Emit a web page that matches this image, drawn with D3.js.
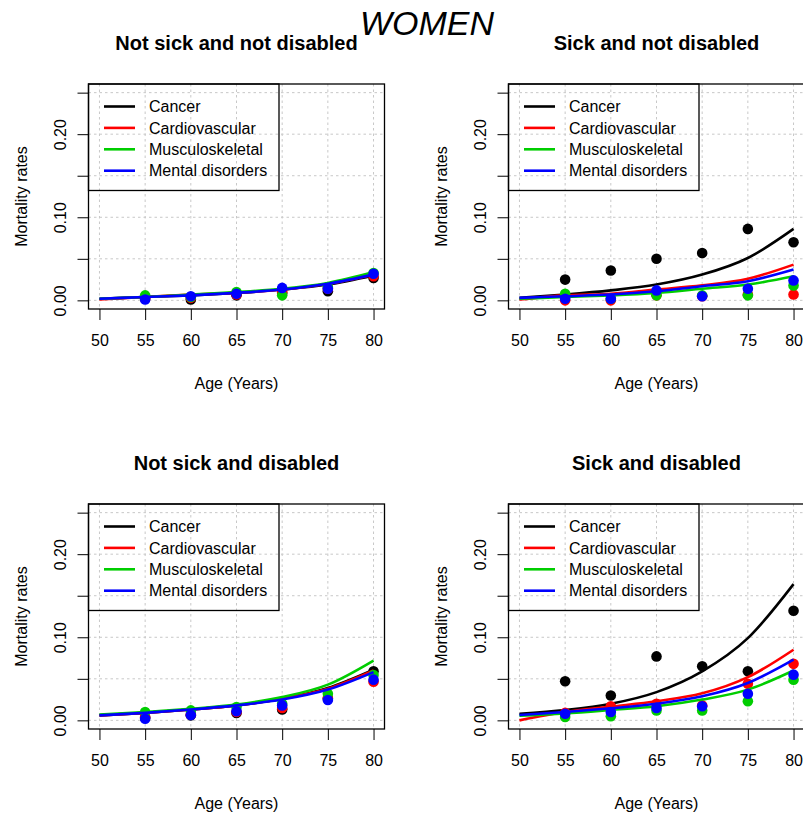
<!DOCTYPE html>
<html>
<head>
<meta charset="utf-8">
<script src="https://cdn.jsdelivr.net/npm/d3@7"></script>
<style>
  html, body { margin: 0; padding: 0; background: #fff; }
  svg { display: block; }
  text { font-family: "Liberation Sans", Arial, "DejaVu Sans", sans-serif; fill: #000; }
</style>
</head>
<body>
<svg id="chart" width="803" height="819"></svg>
<script>
// ---------------- DATA ----------------
const mainTitle = "WOMEN";
const causes = ["Cancer", "Cardiovascular", "Musculoskeletal", "Mental disorders"];
const causeColors = ["#000000", "#ff0000", "#00cd00", "#0000ff"];
const fitAges = [50, 55, 60, 65, 70, 75, 80];
const obsAges = [55, 60, 65, 70, 75, 80];
const xTicks = [50, 55, 60, 65, 70, 75, 80];
const yTicks = [0, 0.05, 0.10, 0.15, 0.20, 0.25];
const yTickLabels = ["0.00", "", "0.10", "", "0.20", ""];
const xLabel = "Age (Years)";
const yLabel = "Mortality rates";

const panelTitles = ["Not sick and not disabled", "Sick and not disabled",
                     "Not sick and disabled", "Sick and disabled"];

// fitted curves (rows: Cancer, Cardiovascular, Musculoskeletal, Mental disorders)
const fitNotSickNotDisabled = [
  [0.002, 0.004, 0.006, 0.009, 0.013, 0.019, 0.030],
  [0.001, 0.004, 0.007, 0.009, 0.013, 0.020, 0.031],
  [0.002, 0.004, 0.007, 0.010, 0.014, 0.021, 0.034],
  [0.002, 0.004, 0.006, 0.009, 0.013, 0.020, 0.031]
];
const fitSickNotDisabled = [
  [0.003, 0.007, 0.012, 0.019, 0.031, 0.051, 0.086],
  [0.001, 0.006, 0.008, 0.013, 0.018, 0.026, 0.043],
  [0.002, 0.004, 0.006, 0.009, 0.014, 0.019, 0.029],
  [0.003, 0.005, 0.007, 0.011, 0.017, 0.023, 0.037]
];
const fitNotSickDisabled = [
  [0.006, 0.009, 0.013, 0.018, 0.026, 0.039, 0.061],
  [0.006, 0.009, 0.013, 0.018, 0.026, 0.038, 0.060],
  [0.007, 0.010, 0.014, 0.019, 0.028, 0.043, 0.072],
  [0.006, 0.009, 0.013, 0.018, 0.025, 0.037, 0.058]
];
const fitSickDisabled = [
  [0.008, 0.0125, 0.020, 0.034, 0.059, 0.099, 0.164],
  [0.000, 0.010, 0.0165, 0.023, 0.0325, 0.052, 0.085],
  [0.0056, 0.0084, 0.0125, 0.017, 0.025, 0.037, 0.060],
  [0.0064, 0.010, 0.0145, 0.020, 0.029, 0.045, 0.073]
];

// observed rates (points)
const obsNotSickNotDisabled = [
  [0.003, 0.001, 0.006, 0.009, 0.011, 0.027],
  [0.002, 0.003, 0.007, 0.010, 0.014, 0.029],
  [0.006, 0.004, 0.010, 0.006, 0.016, 0.033],
  [0.001, 0.005, 0.008, 0.015, 0.014, 0.032]
];
const obsSickNotDisabled = [
  [0.025, 0.036, 0.050, 0.057, 0.086, 0.070],
  [0.000, 0.000, 0.006, 0.005, 0.007, 0.007],
  [0.008, 0.002, 0.006, 0.006, 0.006, 0.018],
  [0.002, 0.002, 0.012, 0.005, 0.014, 0.024]
];
const obsNotSickDisabled = [
  [0.003, 0.006, 0.009, 0.013, 0.026, 0.059],
  [0.004, 0.007, 0.010, 0.015, 0.027, 0.0465],
  [0.010, 0.012, 0.016, 0.020, 0.032, 0.0545],
  [0.002, 0.0064, 0.011, 0.018, 0.0245, 0.049]
];
const obsSickDisabled = [
  [0.047, 0.030, 0.077, 0.065, 0.059, 0.132],
  [0.009, 0.017, 0.020, 0.018, 0.044, 0.068],
  [0.004, 0.005, 0.012, 0.012, 0.023, 0.049],
  [0.008, 0.010, 0.015, 0.017, 0.032, 0.055]
];

const panelFits = [fitNotSickNotDisabled, fitSickNotDisabled, fitNotSickDisabled, fitSickDisabled];
const panelObs = [obsNotSickNotDisabled, obsSickNotDisabled, obsNotSickDisabled, obsSickDisabled];

// ---------------- LAYOUT ----------------
const svg = d3.select("#chart");
svg.append("rect").attr("width", 803).attr("height", 819).attr("fill", "#fff");

const colX = [88.5, 508.5];
const rowY = [84, 504];
const plotW = 296, plotH = 225;
const xDomain = [48.8, 81.2];
const yDomain = [-0.0104, 0.2604];

svg.append("text")
  .attr("x", 427).attr("y", 35)
  .attr("text-anchor", "middle")
  .attr("font-size", 34).attr("font-style", "italic")
  .text(mainTitle);

panelTitles.forEach((title, p) => {
  const left = colX[p % 2], top = rowY[Math.floor(p / 2)];
  const g = svg.append("g").attr("transform", `translate(${left},${top})`);
  const x = d3.scaleLinear().domain(xDomain).range([0, plotW]);
  const y = d3.scaleLinear().domain(yDomain).range([plotH, 0]);

  // grid
  const grid = g.append("g").attr("stroke", "#c8c8c8").attr("stroke-width", 1)
    .attr("stroke-dasharray", "2.5,3");
  grid.selectAll("line.gx").data(xTicks).join("line")
    .attr("x1", d => x(d)).attr("x2", d => x(d)).attr("y1", 0).attr("y2", plotH);
  grid.selectAll("line.gy").data(yTicks).join("line")
    .attr("y1", d => y(d)).attr("y2", d => y(d)).attr("x1", 0).attr("x2", plotW);

  // series
  const line = d3.line().x(d => x(d[0])).y(d => y(d[1])).curve(d3.curveMonotoneX);
  causes.forEach((c, i) => {
    const obs = obsAges.map((a, k) => [a, panelObs[p][i][k]]);
    g.append("g").selectAll("circle").data(obs).join("circle")
      .attr("cx", d => x(d[0])).attr("cy", d => y(d[1])).attr("r", 5.3)
      .attr("fill", causeColors[i]);
    const fit = fitAges.map((a, k) => [a, panelFits[p][i][k]]);
    g.append("path").datum(fit).attr("d", line)
      .attr("fill", "none").attr("stroke", causeColors[i]).attr("stroke-width", 2.6);
  });

  // axes
  const xAxis = g.append("g").attr("transform", `translate(0,${plotH})`)
    .call(d3.axisBottom(x).tickValues(xTicks).tickSize(11).tickPadding(15).tickFormat(d3.format("d")));
  xAxis.select(".domain").remove();
  xAxis.selectAll(".tick line").attr("stroke", "#000").attr("stroke-width", 1);
  xAxis.selectAll(".tick text").attr("font-size", 16).attr("font-family", null).attr("fill", "#000");

  const yAxis = g.append("g")
    .call(d3.axisLeft(y).tickValues(yTicks).tickSize(11).tickFormat((d, i) => yTickLabels[i]));
  yAxis.select(".domain").remove();
  yAxis.selectAll(".tick line").attr("stroke", "#000").attr("stroke-width", 1);
  yAxis.selectAll(".tick text")
    .attr("font-size", 16).attr("font-family", null).attr("fill", "#000")
    .attr("text-anchor", "middle")
    .attr("x", null).attr("dy", null)
    .attr("transform", `translate(${-22.5},0) rotate(-90)`);

  // box
  g.append("rect").attr("x", 0).attr("y", 0).attr("width", plotW).attr("height", plotH)
    .attr("fill", "none").attr("stroke", "#000").attr("stroke-width", 1.3);

  // legend
  const lg = g.append("g");
  lg.append("rect").attr("x", 0).attr("y", 0).attr("width", 190.5).attr("height", 106.5)
    .attr("fill", "none").attr("stroke", "#000").attr("stroke-width", 1.3);
  causes.forEach((c, i) => {
    const cy = 22.5 + i * 21.4;
    lg.append("line").attr("x1", 15.5).attr("x2", 46.5).attr("y1", cy).attr("y2", cy)
      .attr("stroke", causeColors[i]).attr("stroke-width", 2.6);
    lg.append("text").attr("x", 60.5).attr("y", cy).attr("dy", "0.36em")
      .attr("font-size", 16).text(c);
  });

  // titles
  g.append("text").attr("x", plotW / 2).attr("y", -34)
    .attr("text-anchor", "middle").attr("font-size", 20).attr("font-weight", "bold")
    .text(title);
  g.append("text").attr("x", plotW / 2).attr("y", 305)
    .attr("text-anchor", "middle").attr("font-size", 16).text(xLabel);
  g.append("text")
    .attr("transform", `translate(${-61.5},${plotH / 2}) rotate(-90)`)
    .attr("text-anchor", "middle").attr("font-size", 16).text(yLabel);
});
</script>
</body>
</html>
